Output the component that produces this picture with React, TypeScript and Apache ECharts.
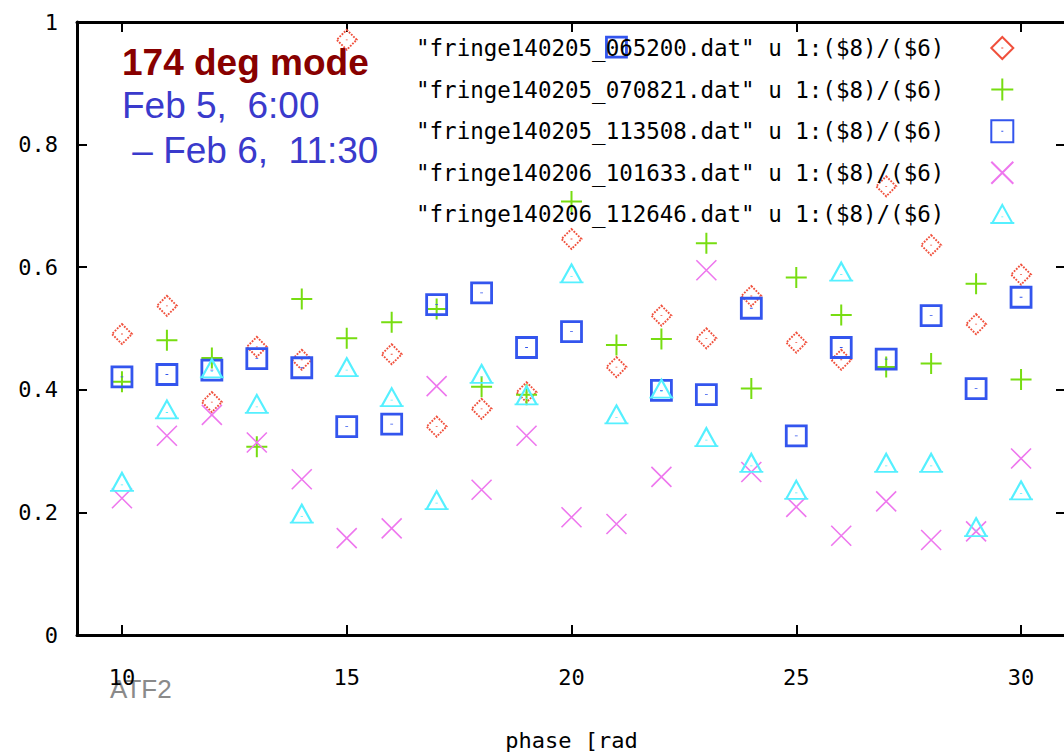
import React, { useEffect, useRef } from "react";
import * as echarts from "echarts";

const phase = [10, 11, 12, 13, 14, 15, 16, 17, 18, 19, 20, 21, 22, 23, 24, 25, 26, 27, 28, 29, 30];
const xTicks = [10, 15, 20, 25, 30];

const seriesNames = [
  '"fringe140205_065200.dat" u 1:($8)/($6)',
  '"fringe140205_070821.dat" u 1:($8)/($6)',
  '"fringe140205_113508.dat" u 1:($8)/($6)',
  '"fringe140206_101633.dat" u 1:($8)/($6)',
  '"fringe140206_112646.dat" u 1:($8)/($6)',
];

const fringe065200 = [0.491, 0.537, 0.380, 0.470, 0.449, 0.971, 0.458, 0.340, 0.369, 0.396, 0.646, 0.437, 0.521, 0.484, 0.553, 0.477, 0.449, 0.732, 0.636, 0.507, 0.588];
const fringe070821 = [0.413, 0.481, 0.452, 0.307, 0.548, 0.484, 0.510, 0.532, 0.405, 0.392, 0.707, 0.473, 0.483, 0.639, 0.402, 0.583, 0.522, 0.437, 0.443, 0.573, 0.417];
const fringe113508 = [0.421, 0.425, 0.432, 0.451, 0.436, 0.340, 0.344, 0.539, 0.558, 0.469, 0.495, 0.959, 0.399, 0.392, 0.533, 0.325, 0.469, 0.450, 0.521, 0.402, 0.551];
const fringe101633 = [0.223, 0.325, 0.359, 0.314, 0.254, 0.158, 0.174, 0.406, 0.237, 0.325, 0.192, 0.181, 0.258, 0.595, 0.266, 0.209, 0.162, 0.218, 0.155, 0.169, 0.288];
const fringe112646 = [0.245, 0.363, 0.430, 0.372, 0.193, 0.432, 0.383, 0.215, 0.421, 0.386, 0.585, 0.355, 0.397, 0.318, 0.276, 0.232, 0.588, 0.276, 0.276, 0.171, 0.231];

const allValues = [fringe065200, fringe070821, fringe113508, fringe101633, fringe112646];

const titleLine = "174 deg mode";
const dateLine1 = "Feb 5,\u00a0\u00a06:00";
const dateLine2 = "\u00a0\u2013 Feb 6,\u00a0\u00a011:30";
const watermark = "ATF2";

const colors = ["#f0503c", "#77dd11", "#3355ee", "#ee77ee", "#55f0ff"];
const symbols = [
  "path://M10,0 L20,10 L10,20 L0,10 Z M10,9.6 L10,10.4",
  "path://M10,0 L10,20 M0,10 L20,10",
  "path://M0,0 L20,0 L20,20 L0,20 Z M10,9.6 L10,10.4",
  "path://M0,0 L20,20 M20,0 L0,20",
  "path://M12,0 L22,18 L2,18 Z M0,18 L24,18 M12,11.6 L12,12.4",
];
const symbolSizes: any[] = [20, 21, 20, 20, [24, 18]];
const symbolOffsets: any[] = [[0, 0], [0, 0], [0, 0], [0, 0], [0, -3]];
const borderWidths = [1.9, 2, 2.8, 1.6, 2];

const mono = "DejaVu Sans Mono";

export default function App() {
  const ref = useRef<HTMLDivElement>(null);
  useEffect(() => {
    if (!ref.current) return;
    const chart = echarts.init(ref.current, undefined, { renderer: "svg" });
    const series = allValues.map((vals, i) => ({
      name: seriesNames[i],
      type: "scatter",
      data: phase.map((x, j) => [x, vals[j]]),
      symbol: symbols[i],
      symbolSize: symbolSizes[i],
      symbolOffset: symbolOffsets[i],
      silent: true,
      itemStyle: {
        color: "rgba(0,0,0,0)",
        borderColor: colors[i],
        borderWidth: borderWidths[i],
        borderType: i === 0 ? [1.8, 1.3] : "solid",
        opacity: 1,
      },
    }));
    const axisLine = { show: true, onZero: false, lineStyle: { color: "#000", width: 3 } };
    const axisTick = { show: true, inside: true, length: 10, lineStyle: { color: "#000", width: 2 } };
    chart.setOption({
      animation: false,
      backgroundColor: "#fff",
      grid: { left: 77, top: 22, width: 989, height: 613, outerBoundsMode: "none", containLabel: false },
      xAxis: [
        {
          type: "value",
          position: "bottom",
          min: 9,
          max: 31,
          splitLine: { show: false },
          axisLine,
          axisTick: { ...axisTick, customValues: xTicks },
          axisLabel: { customValues: xTicks, margin: 31, color: "#000", fontFamily: mono, fontSize: 22 },
          name: "phase [rad",
          nameLocation: "middle",
          nameGap: 94,
          nameTextStyle: { color: "#000", fontFamily: mono, fontSize: 22 },
        },
        {
          type: "value",
          position: "top",
          min: 9,
          max: 31,
          splitLine: { show: false },
          axisLine,
          axisTick: { ...axisTick, customValues: xTicks },
          axisLabel: { show: false },
        },
      ],
      yAxis: [
        {
          type: "value",
          position: "left",
          min: 0,
          max: 1,
          interval: 0.2,
          splitLine: { show: false },
          axisLine,
          axisTick,
          axisLabel: { margin: 19, color: "#000", fontFamily: mono, fontSize: 22 },
        },
        {
          type: "value",
          position: "right",
          min: 0,
          max: 1,
          interval: 0.2,
          splitLine: { show: false },
          axisLine,
          axisTick,
          axisLabel: { show: false },
        },
      ],
      legend: {
        orient: "vertical",
        left: 411,
        top: 31,
        align: "right",
        itemWidth: 24,
        itemHeight: 22,
        itemGap: 17.6,
        selectedMode: false,
        textStyle: { color: "#000", fontFamily: mono, fontSize: 22.5, lineHeight: 22, padding: [0, 41, 0, 0] },
        data: seriesNames,
      },
      graphic: [
        {
          type: "text",
          x: 122,
          y: 62,
          silent: true,
          style: { text: titleLine, fill: "#880000", font: "bold 37px 'Liberation Sans'", verticalAlign: "middle", align: "left" },
        },
        {
          type: "text",
          x: 122,
          y: 105,
          silent: true,
          style: { text: dateLine1, fill: "#3a3acc", font: "37px 'Liberation Sans'", verticalAlign: "middle", align: "left" },
        },
        {
          type: "text",
          x: 122,
          y: 150,
          silent: true,
          style: { text: dateLine2, fill: "#3a3acc", font: "37px 'Liberation Sans'", verticalAlign: "middle", align: "left" },
        },
        {
          type: "text",
          x: 110,
          y: 689,
          silent: true,
          style: { text: watermark, fill: "#8a8a8a", font: "26px 'Liberation Sans'", verticalAlign: "middle", align: "left" },
        },
      ],
      series,
    });
    return () => chart.dispose();
  }, []);
  return <div ref={ref} style={{ position: "fixed", left: 0, top: 0, width: 1064, height: 753, background: "#fff" }} />;
}
